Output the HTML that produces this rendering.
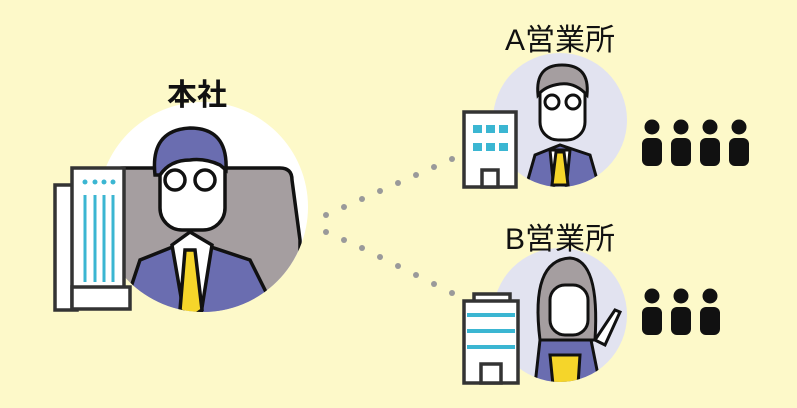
<!DOCTYPE html>
<html><head><meta charset="utf-8"><style>
html,body{margin:0;padding:0;background:#fdf9c9;}
svg{display:block}
text{font-family:"Liberation Sans","Noto Sans CJK JP",sans-serif;fill:#111;}
</style></head><body>
<svg width="797" height="408" viewBox="0 0 797 408" xmlns="http://www.w3.org/2000/svg">
<rect width="797" height="408" fill="#fdf9c9"/>
<g fill="#9a9a9a">
<circle cx="326" cy="215" r="3"/><circle cx="344" cy="207" r="3"/><circle cx="362" cy="199" r="3"/><circle cx="380" cy="191" r="3"/><circle cx="398" cy="183" r="3"/><circle cx="416" cy="175" r="3"/><circle cx="434" cy="167" r="3"/><circle cx="452" cy="159" r="3"/>
<circle cx="326" cy="232" r="3"/><circle cx="344" cy="240" r="3"/><circle cx="362" cy="248" r="3"/><circle cx="380" cy="257" r="3"/><circle cx="398" cy="266" r="3"/><circle cx="416" cy="275" r="3"/><circle cx="434" cy="284" r="3"/><circle cx="452" cy="293" r="3"/>
</g>
<clipPath id="c1"><circle cx="203" cy="207" r="105"/></clipPath>
<circle cx="203" cy="207" r="105" fill="#ffffff"/>
<g clip-path="url(#c1)" stroke="#111" stroke-width="3.5">
<path d="M110 175 Q110 168 125 168 L280 168 Q292 168 292 180 L300 240 L300 320 L105 320 Z" fill="#a59ea0"/>
<path d="M120 320 L140 260 L190 240 L250 260 L280 320 Z" fill="#6a6db0"/>
<path d="M172 245 L190 232 L212 245 L200 320 L185 320 Z" fill="#fff"/>
<path d="M185 250 L195 250 L202 310 L190 318 L180 310 Z" fill="#f5d52a"/>
<rect x="160" y="145" width="65" height="85" rx="22" fill="#fff"/>
<path d="M155 175 Q150 130 190 128 Q228 128 226 170 L220 165 Q205 158 190 160 Q170 160 160 175 Z" fill="#6a6db0"/>
<circle cx="175" cy="180" r="10" fill="none"/><circle cx="205" cy="180" r="10" fill="none"/>
</g>
<g stroke="#333" stroke-width="3.5">
<rect x="55" y="185" width="22" height="125" fill="#fff"/>
<rect x="72" y="168" width="52" height="140" fill="#fff"/>
<rect x="72" y="287" width="58" height="22" fill="#fff"/>
</g>
<g stroke="#3bb6d2" stroke-width="3">
<line x1="85" y1="195" x2="85" y2="282"/><line x1="95" y1="195" x2="95" y2="282"/><line x1="104" y1="195" x2="104" y2="282"/><line x1="113" y1="195" x2="113" y2="282"/>
</g>
<g fill="#3bb6d2"><circle cx="85" cy="182" r="2.5"/><circle cx="95" cy="182" r="2.5"/><circle cx="104" cy="182" r="2.5"/><circle cx="113" cy="182" r="2.5"/></g>
<text x="197" y="105" font-size="30" font-weight="bold" text-anchor="middle">本社</text>
<!-- A office -->
<clipPath id="c2"><circle cx="560" cy="120" r="67"/></clipPath>
<circle cx="560" cy="120" r="67" fill="#e2e3f0"/>
<g clip-path="url(#c2)" stroke="#111" stroke-width="3">
<path d="M525 190 L535 155 L560 145 L590 155 L600 190 Z" fill="#6a6db0"/>
<path d="M550 150 L570 150 L566 190 L554 190 Z" fill="#fff"/>
<path d="M556 152 L564 152 L568 185 L552 185 Z" fill="#f5d52a"/>
<rect x="540" y="75" width="45" height="65" rx="18" fill="#fff"/>
<path d="M538 95 Q535 65 562 65 Q590 65 587 95 Q575 82 560 84 Q545 86 538 95Z" fill="#a59ea0"/>
<circle cx="552" cy="102" r="7" fill="none"/><circle cx="573" cy="102" r="7" fill="none"/>
</g>
<g stroke="#333" stroke-width="3.5" fill="#fff">
<rect x="464" y="112" width="52" height="75"/>
<rect x="482" y="170" width="16" height="17"/>
</g>
<g fill="#3bb6d2"><rect x="473" y="125" width="9" height="8"/><rect x="486" y="125" width="9" height="8"/><rect x="499" y="125" width="9" height="8"/><rect x="473" y="143" width="9" height="8"/><rect x="486" y="143" width="9" height="8"/><rect x="499" y="143" width="9" height="8"/></g>
<g fill="#111">
<circle cx="652" cy="127" r="7.5"/><rect x="642" y="138" width="20" height="28" rx="6"/>
<circle cx="681" cy="127" r="7.5"/><rect x="671" y="138" width="20" height="28" rx="6"/>
<circle cx="710" cy="127" r="7.5"/><rect x="700" y="138" width="20" height="28" rx="6"/>
<circle cx="739" cy="127" r="7.5"/><rect x="729" y="138" width="20" height="28" rx="6"/>
</g>
<text x="560" y="50" font-size="30" text-anchor="middle">A営業所</text>
<!-- B office -->
<clipPath id="c3"><circle cx="560" cy="315" r="67"/></clipPath>
<circle cx="560" cy="315" r="67" fill="#e2e3f0"/>
<g clip-path="url(#c3)" stroke="#111" stroke-width="3">
<path d="M535 385 L540 340 L590 335 L600 385 Z" fill="#6a6db0"/>
<path d="M550 355 L580 355 L578 385 L553 385 Z" fill="#f5d52a"/>
<path d="M540 340 Q530 260 570 258 Q600 260 595 340 Z" fill="#a59ea0"/>
<rect x="550" y="285" width="38" height="50" rx="15" fill="#fff"/>
<path d="M595 340 L615 310 L620 312 L605 345 Z" fill="#fff"/>
</g>
<g stroke="#333" stroke-width="3.5" fill="#fff">
<rect x="474" y="294" width="36" height="8"/>
<rect x="464" y="301" width="54" height="82"/>
<rect x="481" y="364" width="20" height="19"/>
</g>
<g fill="#3bb6d2"><rect x="467" y="313" width="48" height="4"/><rect x="467" y="329" width="48" height="4"/><rect x="467" y="345" width="48" height="4"/></g>
<g fill="#111">
<circle cx="652" cy="296" r="7.5"/><rect x="642" y="307" width="20" height="28" rx="6"/>
<circle cx="681" cy="296" r="7.5"/><rect x="671" y="307" width="20" height="28" rx="6"/>
<circle cx="710" cy="296" r="7.5"/><rect x="700" y="307" width="20" height="28" rx="6"/>
</g>
<text x="560" y="249" font-size="30" text-anchor="middle">B営業所</text>
</svg>
</body></html>
